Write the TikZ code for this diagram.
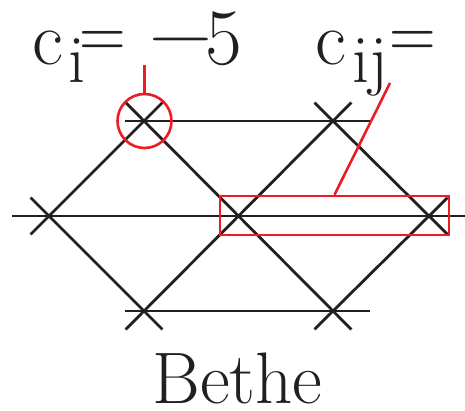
\documentclass[tikz,border=0pt]{standalone}
\usepackage{graphicx}
\definecolor{ink}{HTML}{231F20}
\definecolor{redl}{HTML}{ED1C24}
\tikzset{
  bond/.style={draw=ink, line width=2.8pt},
  xbond/.style={bond, shorten <=-26pt, shorten >=-26pt},
  redmark/.style={draw=redl, line width=2.6pt},
  lbl/.style={inner sep=0pt, anchor=base west, text=ink, font=\fontsize{76}{80}\selectfont}
}
\newcommand{\subtxt}[1]{\raisebox{-18pt}{\fontsize{68}{68}\selectfont #1}}
\newcommand{\eqs}{\raisebox{6pt}{\scalebox{0.85}[1]{=}}}
\newcommand{\mns}{\raisebox{6pt}{\scalebox{1.15}[1]{−}}}
\begin{document}
\begin{tikzpicture}[x=1pt,y=-1pt]
\useasboundingbox (0,0) rectangle (465,411);
% crossing points
\coordinate (A) at (144,121);
\coordinate (B) at (333,121);
\coordinate (L) at (49,216);
\coordinate (C) at (238.5,216);
\coordinate (R) at (429,216);
\coordinate (D) at (144,311);
\coordinate (E) at (333,311);
% horizontal lines
\draw[bond, shorten <=-19pt, shorten >=-39pt] (A) -- (B);
\draw[bond, shorten <=-37pt, shorten >=-40pt] (L) -- (R);
\draw[bond, shorten <=-19pt, shorten >=-37pt] (D) -- (E);
% diagonals (extended to form crosses)
\draw[xbond] (L) -- (A);
\draw[xbond] (A) -- (E);
\draw[xbond] (D) -- (B);
\draw[xbond] (L) -- (D);
\draw[xbond] (B) -- (R);
\draw[xbond] (E) -- (R);
% red markers
\node[redmark, circle, minimum size=54pt, inner sep=0pt] (ring) at (144.5,121) {};
\coordinate (ringend) at (144.5,65);
\draw[redmark] (ring.north) -- (ringend);
\node[redmark, rectangle, minimum width=229pt, minimum height=39pt, inner sep=0pt] (box) at (334.5,215.5) {};
\coordinate (boxend) at (390,83);
\draw[redmark] (box.north) -- (boxend);
% labels
\node[lbl] (ci) at (32.5,65) {c\kern5pt\subtxt{i}\kern-6.5pt\eqs\kern24pt\mns\kern-7pt{\fontsize{80}{80}\selectfont 5}};
\node[lbl] (cij) at (315.5,65) {c\kern6pt\subtxt{ij}\kern0.7pt\eqs};
\node[lbl, anchor=base] (bethe) at (237.5,403) {\fontsize{73}{76}\selectfont Bethe};
\end{tikzpicture}
\end{document}
